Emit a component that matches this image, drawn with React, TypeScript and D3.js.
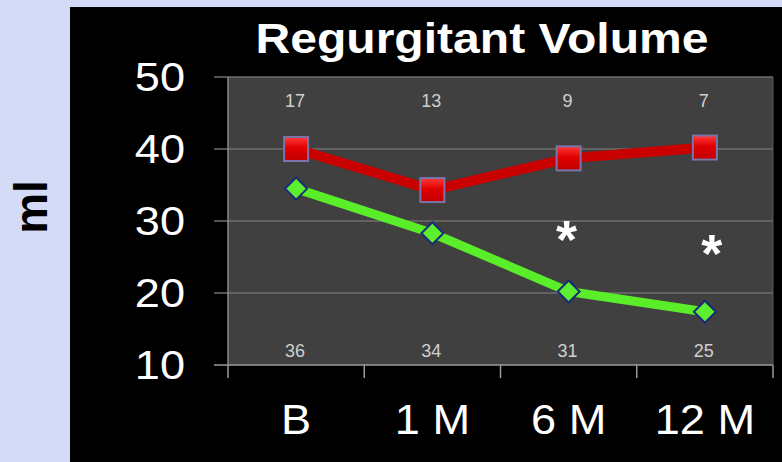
import React from "react";
import * as d3 from "d3";

const categories = ["B", "1 M", "6 M", "12 M"];
const redValues = [40, 34.3, 38.7, 40.2];
const greenValues = [34.5, 28.3, 20.2, 17.4];
const topCounts = [17, 13, 9, 7];
const bottomCounts = [36, 34, 31, 25];
const yTicks = [10, 20, 30, 40, 50];
const asteriskValues: (number | null)[] = [null, null, 28.6, 26.7];

const W = 782;
const H = 462;
const plot = { left: 228, right: 773, top: 77, bottom: 365 };
const FONT = "'Liberation Sans', Arial, sans-serif";

export default function App() {
  const x = d3
    .scaleBand<string>()
    .domain(categories)
    .range([plot.left, plot.right])
    .padding(0);
  const y = d3.scaleLinear().domain([10, 50]).range([plot.bottom, plot.top]);
  const cx = (c: string) => (x(c) as number) + x.bandwidth() / 2;

  const line = d3
    .line<number>()
    .x((_, i) => cx(categories[i]))
    .y((d) => y(d));

  const boundaries = [...categories.map((c) => x(c) as number), plot.right];

  return (
    <svg
      width={W}
      height={H}
      style={{ position: "absolute", left: 0, top: 0, display: "block" }}
      fontFamily={FONT}
    >
      <defs>
        <linearGradient id="sq" x1="0" y1="0" x2="0" y2="1">
          <stop offset="0" stopColor="#ff3a3a" />
          <stop offset="0.45" stopColor="#e00000" />
          <stop offset="1" stopColor="#c00000" />
        </linearGradient>
      </defs>
      <rect x={0} y={0} width={W} height={H} fill="#d3dbf7" />
      <rect x={70} y={7} width={W - 70} height={H - 7} fill="#000" />
      <rect
        x={plot.left}
        y={plot.top}
        width={plot.right - plot.left}
        height={plot.bottom - plot.top}
        fill="#404040"
      />
      {yTicks.map((t) => (
        <line
          key={"g" + t}
          x1={plot.left - 14}
          x2={plot.right}
          y1={y(t)}
          y2={y(t)}
          stroke={t === 10 ? "#9a9a9a" : "#6e6e6e"}
          strokeWidth={1.5}
        />
      ))}
      <line x1={plot.left} x2={plot.left} y1={plot.top} y2={plot.bottom} stroke="#8a8a8a" strokeWidth={1.5} />
      <line x1={plot.right} x2={plot.right} y1={plot.top} y2={plot.bottom} stroke="#5a5a5a" strokeWidth={1} />
      {boundaries.map((b, i) => (
        <line key={"xt" + i} x1={b} x2={b} y1={plot.bottom} y2={plot.bottom + 13} stroke="#9a9a9a" strokeWidth={1.5} />
      ))}
      {yTicks.map((t) => (
        <text
          key={"yl" + t}
          x={185}
          y={y(t)}
          textAnchor="end"
          dominantBaseline="central"
          fill="#fff"
          fontSize={41}
          transform={`translate(185,0) scale(1.1,1) translate(-185,0)`}
        >
          {t}
        </text>
      ))}
      {categories.map((c) => (
        <text
          key={"xl" + c}
          x={cx(c)}
          y={434}
          textAnchor="middle"
          fill="#fff"
          fontSize={43}
          transform={`translate(${cx(c)},0) scale(1.05,1) translate(${-cx(c)},0)`}
        >
          {c}
        </text>
      ))}
      <text
        x={482}
        y={53}
        textAnchor="middle"
        fill="#fff"
        fontWeight="bold"
        fontSize={42}
        textLength={453}
        lengthAdjust="spacingAndGlyphs"
      >
        Regurgitant Volume
      </text>
      <text
        transform="translate(47,207) rotate(-90)"
        textAnchor="middle"
        fill="#000"
        fontWeight="bold"
        fontSize={46}
      >
        ml
      </text>
      {categories.map((c, i) => (
        <text key={"tc" + c} x={cx(c) - 1} y={107} textAnchor="middle" fill="#d0d0d0" fontSize={18}>
          {topCounts[i]}
        </text>
      ))}
      {categories.map((c, i) => (
        <text key={"bc" + c} x={cx(c) - 1} y={357} textAnchor="middle" fill="#d0d0d0" fontSize={18}>
          {bottomCounts[i]}
        </text>
      ))}
      <path d={line(redValues) || ""} fill="none" stroke="#c80000" strokeWidth={10} strokeLinejoin="round" />
      <path d={line(greenValues) || ""} fill="none" stroke="#5aee2a" strokeWidth={9} strokeLinejoin="round" />
      {categories.map((c, i) => (
        <rect
          key={"sq" + c}
          x={cx(c) - 12}
          y={y(redValues[i]) - 12}
          width={24}
          height={24}
          fill="url(#sq)"
          stroke="#7a74a8"
          strokeWidth={2}
        />
      ))}
      {categories.map((c, i) => {
        const px = cx(c);
        const py = y(greenValues[i]);
        const r = 11;
        return (
          <polygon
            key={"dd" + c}
            points={`${px},${py - r} ${px + r},${py} ${px},${py + r} ${px - r},${py}`}
            fill="#5eee30"
            stroke="#1a2a7a"
            strokeWidth={2}
          />
        );
      })}
      {categories.map((c, i) =>
        asteriskValues[i] == null ? null : (
          <text
            key={"as" + c}
            x={cx(c) + (i === 3 ? 7 : -2)}
            y={y(asteriskValues[i] as number)}
            dy={0.5 * 54}
            textAnchor="middle"
            fill="#fff"
            fontWeight="bold"
            fontSize={54}
          >
            *
          </text>
        )
      )}
    </svg>
  );
}
